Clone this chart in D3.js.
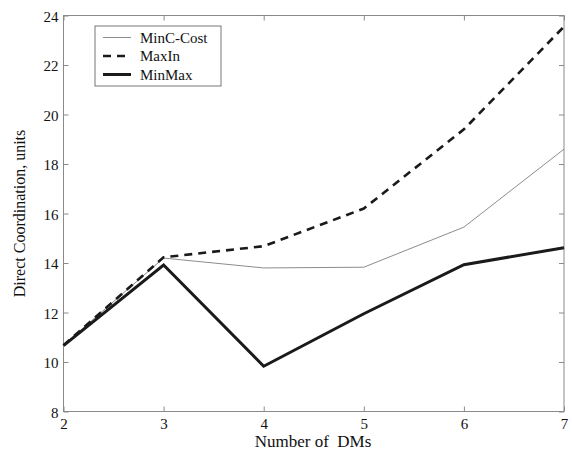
<!DOCTYPE html>
<html><head><meta charset="utf-8">
<script src="https://cdn.jsdelivr.net/npm/d3@7"></script>
<style>body{margin:0;background:#fff}svg{display:block}text{font-family:"Liberation Serif","Times New Roman",serif;fill:#111}</style>
</head><body><svg id="c" width="572" height="455"></svg>
<script>
const dms = [2, 3, 4, 5, 6, 7];
const minCCost = [10.68, 14.2, 13.8, 13.83, 15.45, 18.6];
const maxIn = [10.68, 14.23, 14.68, 16.2, 19.4, 23.55];
const minMax = [10.66, 13.92, 9.83, 11.95, 13.93, 14.62];
const yTicks = [8, 10, 12, 14, 16, 18, 20, 22, 24];
const xTicks = [2, 3, 4, 5, 6, 7];
const seriesNames = ["MinC-Cost", "MaxIn", "MinMax"];

const svg = d3.select("#c");
const L = 63.5, R = 564, T = 15.5, B = 411.5;
const x = d3.scaleLinear().domain([2, 7]).range([L, R]);
const y = d3.scaleLinear().domain([8, 24]).range([B, T]);
const axisCol = "#8a8a8a";
const serif = '"Liberation Serif","Times New Roman",serif';

svg.append("rect").attr("x", L).attr("y", T).attr("width", R - L).attr("height", B - T)
  .attr("fill", "none").attr("stroke", axisCol).attr("stroke-width", 1);

const fmt = d3.format("d");
const gB = svg.append("g").attr("transform", `translate(0,${B})`)
  .call(d3.axisBottom(x).tickValues(xTicks).tickFormat(fmt).tickSizeInner(-5).tickSizeOuter(0).tickPadding(7));
const gT = svg.append("g").attr("transform", `translate(0,${T})`)
  .call(d3.axisTop(x).tickValues(xTicks).tickSizeInner(-5).tickSizeOuter(0).tickFormat(""));
const gL = svg.append("g").attr("transform", `translate(${L},0)`)
  .call(d3.axisLeft(y).tickValues(yTicks).tickFormat(fmt).tickSizeInner(-5).tickSizeOuter(0).tickPadding(5));
const gR = svg.append("g").attr("transform", `translate(${R},0)`)
  .call(d3.axisRight(y).tickValues(yTicks).tickSizeInner(-5).tickSizeOuter(0).tickFormat(""));
[gB, gT, gL, gR].forEach(g => {
  g.attr("font-family", serif).attr("font-size", 15);
  g.select(".domain").remove();
  g.selectAll("line").attr("stroke", axisCol);
  g.selectAll("text").attr("fill", "#111");
});
gL.selectAll(".tick text").attr("dy", "0.38em");

svg.append("text").attr("x", 313).attr("y", 447).attr("text-anchor", "middle")
  .attr("xml:space", "preserve").style("white-space", "pre")
  .style("font-size", "17px").text("Number of  DMs");
svg.append("text").attr("transform", `translate(25,${(T + B) / 2}) rotate(-90)`).attr("text-anchor", "middle")
  .style("font-size", "16px").text("Direct Coordination, units");

const styles = [
  {data: minCCost, stroke: "#8c8c8c", w: 1, dash: null},
  {data: maxIn, stroke: "#1a1a1a", w: 2.6, dash: "8,6"},
  {data: minMax, stroke: "#1a1a1a", w: 3, dash: null}
];
const line = d3.line().x((d, i) => x(dms[i])).y(d => y(d));
styles.forEach(s => {
  svg.append("path").attr("d", line(s.data)).attr("fill", "none")
    .attr("stroke", s.stroke).attr("stroke-width", s.w)
    .attr("stroke-dasharray", s.dash).attr("stroke-linejoin", "miter");
});

const lg = svg.append("g");
lg.append("rect").attr("x", 95).attr("y", 26).attr("width", 126).attr("height", 60)
  .attr("fill", "#fff").attr("stroke", "#777").attr("stroke-width", 1);
seriesNames.forEach((n, i) => {
  const yy = 37.5 + i * 18.5;
  lg.append("line").attr("x1", 103).attr("x2", 131).attr("y1", yy).attr("y2", yy)
    .attr("stroke", styles[i].stroke).attr("stroke-width", styles[i].w)
    .attr("stroke-dasharray", styles[i].dash);
  lg.append("text").attr("x", 140).attr("y", yy + 5).style("font-size", "15px").text(n);
});
</script></body></html>
